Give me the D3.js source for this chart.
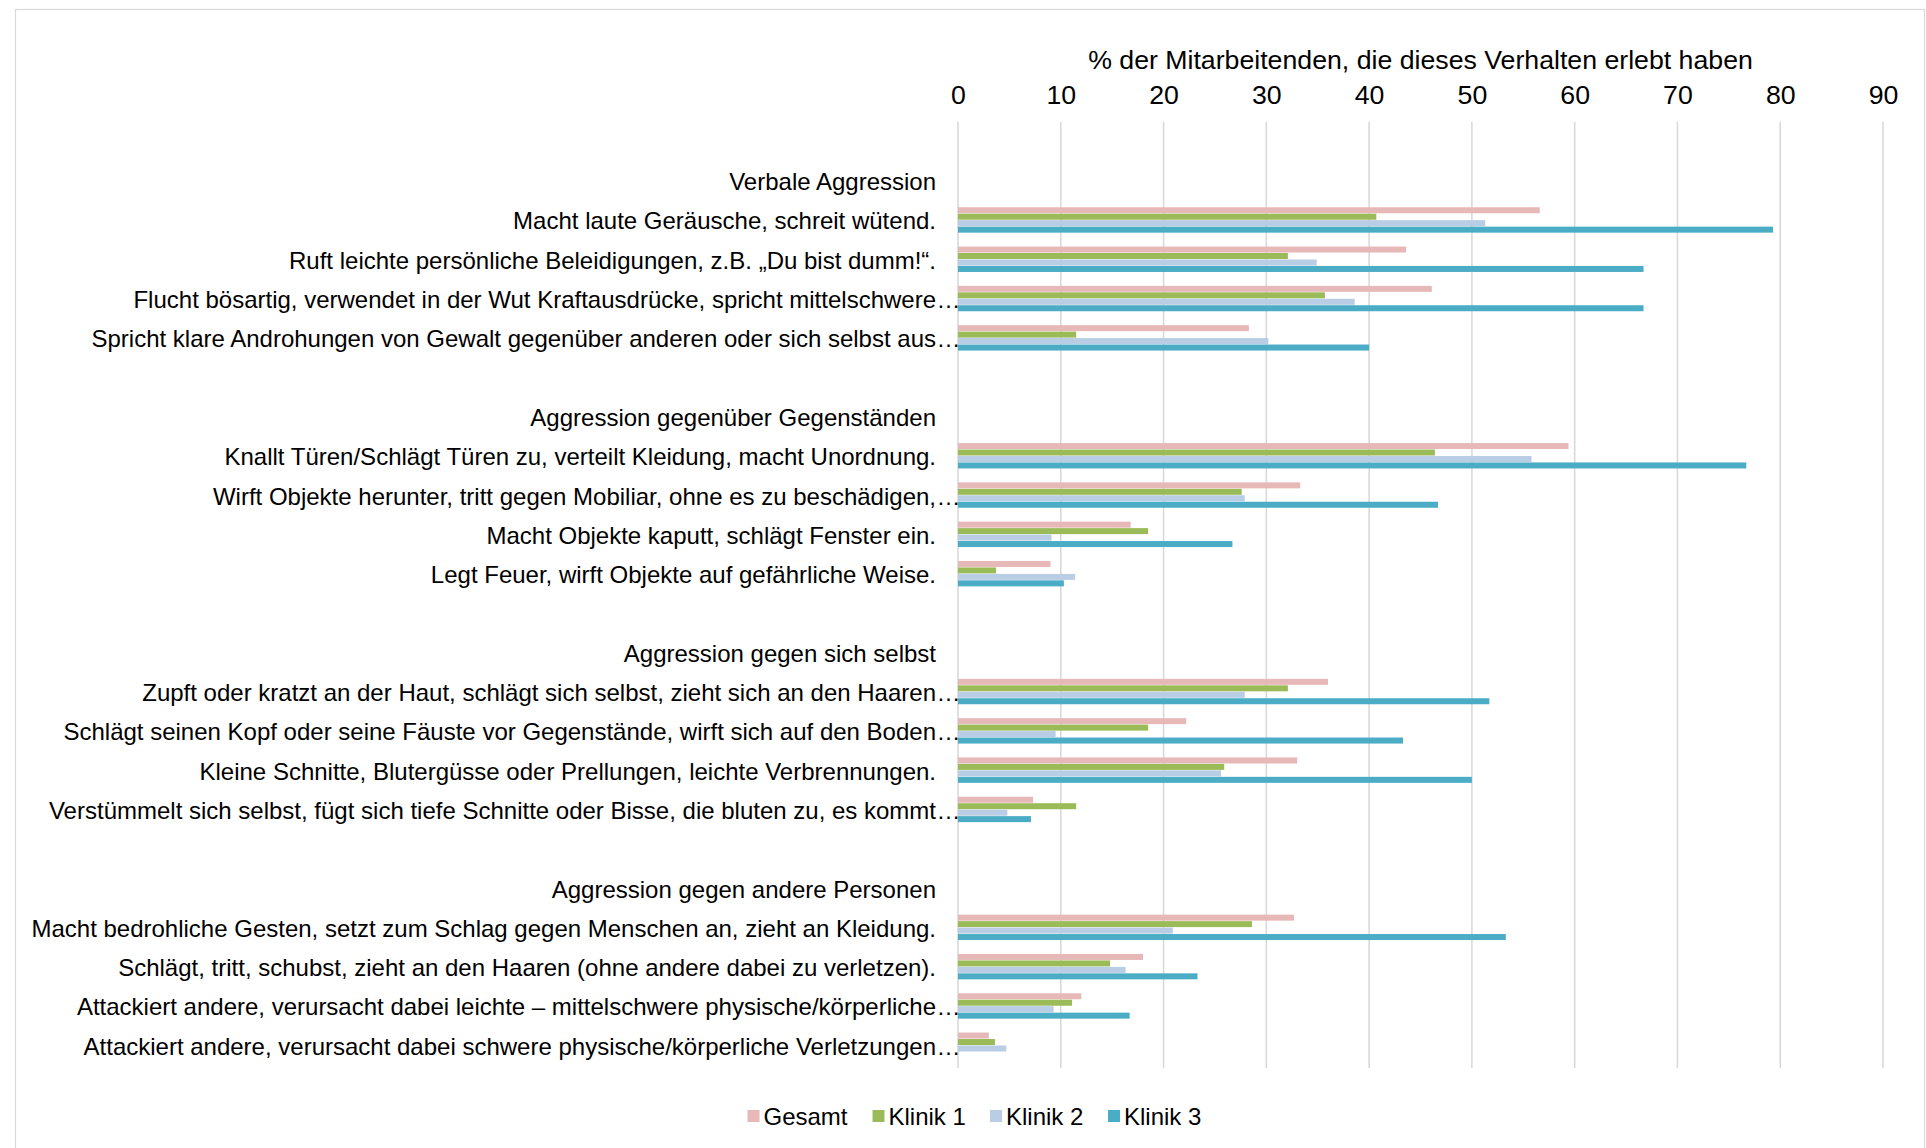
<!DOCTYPE html>
<html>
<head>
<meta charset="utf-8">
<script src="https://cdn.jsdelivr.net/npm/d3@7"></script>
<style>
  html, body { margin: 0; padding: 0; background: #fff; }
  svg { display: block; }
  text { font-family: "Liberation Sans", Arial, sans-serif; fill: #000; }
</style>
</head>
<body>
<svg id="chart" width="1926" height="1148"></svg>
<script>
// Behaviour groups and their items (each item label; truncated labels end with an ellipsis)
const groups = [
  "Verbale Aggression",
  "Aggression gegenüber Gegenständen",
  "Aggression gegen sich selbst",
  "Aggression gegen andere Personen"
];
const items = [
  ["Macht laute Geräusche, schreit wütend.", "Ruft leichte persönliche Beleidigungen, z.B. „Du bist dumm!“.", "Flucht bösartig, verwendet in der Wut Kraftausdrücke, spricht mittelschwere…", "Spricht klare Androhungen von Gewalt gegenüber anderen oder sich selbst aus…"],
  ["Knallt Türen/Schlägt Türen zu, verteilt Kleidung, macht Unordnung.", "Wirft Objekte herunter, tritt gegen Mobiliar, ohne es zu beschädigen,…", "Macht Objekte kaputt, schlägt Fenster ein.", "Legt Feuer, wirft Objekte auf gefährliche Weise."],
  ["Zupft oder kratzt an der Haut, schlägt sich selbst, zieht sich an den Haaren…", "Schlägt seinen Kopf oder seine Fäuste vor Gegenstände, wirft sich auf den Boden…", "Kleine Schnitte, Blutergüsse oder Prellungen, leichte Verbrennungen.", "Verstümmelt sich selbst, fügt sich tiefe Schnitte oder Bisse, die bluten zu, es kommt…"],
  ["Macht bedrohliche Gesten, setzt zum Schlag gegen Menschen an, zieht an Kleidung.", "Schlägt, tritt, schubst, zieht an den Haaren (ohne andere dabei zu verletzen).", "Attackiert andere, verursacht dabei leichte – mittelschwere physische/körperliche…", "Attackiert andere, verursacht dabei schwere physische/körperliche Verletzungen…"]
];

const seriesNames = ["Gesamt", "Klinik 1", "Klinik 2", "Klinik 3"];
const seriesColors = ["#E6B9B8", "#9BBB59", "#B9CDE5", "#4BACC6"];

// % of staff who experienced the behaviour, in item order
const gesamt  = [56.6, 43.6, 46.1, 28.3, 59.4, 33.3, 16.8, 9.0, 36.0, 22.2, 33.0, 7.3, 32.7, 18.0, 12.0, 3.0];
const klinik1 = [40.7, 32.1, 35.7, 11.5, 46.4, 27.6, 18.5, 3.7, 32.1, 18.5, 25.9, 11.5, 28.6, 14.8, 11.1, 3.6];
const klinik2 = [51.3, 34.9, 38.6, 30.2, 55.8, 27.9, 9.1, 11.4, 27.9, 9.5, 25.6, 4.8, 20.9, 16.3, 9.3, 4.7];
const klinik3 = [79.3, 66.7, 66.7, 40.0, 76.7, 46.7, 26.7, 10.3, 51.7, 43.3, 50.0, 7.1, 53.3, 23.3, 16.7, 0];
const seriesValues = [gesamt, klinik1, klinik2, klinik3];

const xTicks = [0, 10, 20, 30, 40, 50, 60, 70, 80, 90];
const axisTitle = "% der Mitarbeitenden, die dieses Verhalten erlebt haben";

// Build the row sequence: spacer, group header, then the group's items
const rows = [];
let itemIndex = 0;
groups.forEach((g, gi) => {
  rows.push({ key: "gap" + gi, type: "gap", label: "" });
  rows.push({ key: "head" + gi, type: "head", label: g });
  items[gi].forEach(label => {
    rows.push({ key: "item" + itemIndex, type: "item", label, idx: itemIndex });
    itemIndex++;
  });
});

const svg = d3.select("#chart");
const LABEL_FONT = 24;
const AXIS_FONT = 26.7;
const FONT_FAMILY = '"Liberation Sans", Arial, sans-serif';

// outer chart frame
svg.append("rect")
  .attr("x", 15.5).attr("y", 9.5)
  .attr("width", 1909).attr("height", 1160)
  .attr("fill", "none").attr("stroke", "#D9D9D9").attr("stroke-width", 1.2);

const plotTop = 121.7, plotBottom = 1068;
const x = d3.scaleLinear().domain([0, 90]).range([958, 1883]);
const y = d3.scaleBand().domain(rows.map(r => r.key)).range([plotTop, plotTop + 24 * 39.3]);
const inner = d3.scaleBand().domain(seriesNames).range([-12.7, 12.7]).paddingInner(0.07);

// vertical gridlines
svg.append("g").selectAll("line")
  .data(xTicks).join("line")
  .attr("x1", d => x(d)).attr("x2", d => x(d))
  .attr("y1", plotTop).attr("y2", plotBottom)
  .attr("stroke", "#D9D9D9").attr("stroke-width", 1.6);

// top value axis
const xAxis = svg.append("g")
  .attr("transform", "translate(0,104)")
  .call(d3.axisTop(x).tickValues(xTicks).tickSize(0).tickPadding(0));
xAxis.select(".domain").remove();
xAxis.selectAll("text")
  .style("font-family", FONT_FAMILY)
  .style("font-size", AXIS_FONT + "px").attr("fill", "#000");

svg.append("text")
  .attr("x", x(45)).attr("y", 68.5)
  .attr("text-anchor", "middle")
  .style("font-size", AXIS_FONT + "px")
  .text(axisTitle);

// category labels
const labelRight = 936;
const lab = svg.append("g");
rows.filter(r => r.type !== "gap").forEach(r => {
  const cy = y(r.key) + y.bandwidth() / 2 + 9.5;
  const truncated = r.label.endsWith("…");
  const base = truncated ? r.label.slice(0, -1) : r.label;
  lab.append("text")
    .attr("x", labelRight).attr("y", cy)
    .attr("text-anchor", "end")
    .style("font-size", LABEL_FONT + "px")
    .text(base);
  if (truncated) {
    lab.append("text")
      .attr("x", labelRight + 0.5).attr("y", cy)
      .attr("text-anchor", "start")
      .style("font-size", LABEL_FONT + "px")
      .text("…");
  }
});

// clustered bars
const itemRows = rows.filter(r => r.type === "item");
seriesNames.forEach((s, si) => {
  svg.append("g").selectAll("rect")
    .data(itemRows).join("rect")
    .attr("x", x(0))
    .attr("y", r => y(r.key) + y.bandwidth() / 2 + inner(s))
    .attr("width", r => x(seriesValues[si][r.idx]) - x(0))
    .attr("height", inner.bandwidth())
    .attr("fill", seriesColors[si]);
});

// legend
const legendX = [747.5, 872.5, 990, 1108];
const lg = svg.append("g");
seriesNames.forEach((s, si) => {
  lg.append("rect")
    .attr("x", legendX[si]).attr("y", 1110)
    .attr("width", 12).attr("height", 12)
    .attr("fill", seriesColors[si]);
  lg.append("text")
    .attr("x", legendX[si] + 16).attr("y", 1124.5)
    .style("font-size", LABEL_FONT + "px")
    .text(s);
});
</script>
</body>
</html>
